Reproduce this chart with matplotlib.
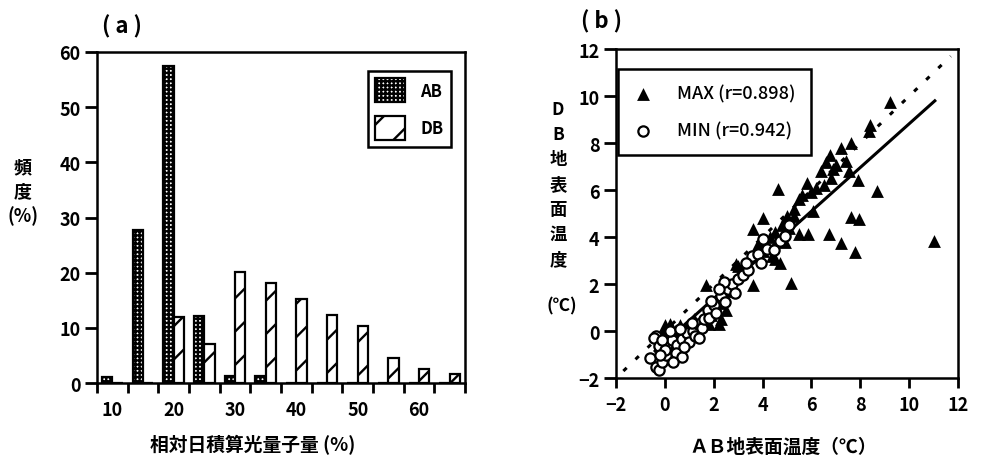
import matplotlib
matplotlib.use('Agg')
import matplotlib.pyplot as plt
from matplotlib.ticker import FixedLocator, FixedFormatter

plt.rcParams['font.family'] = ['Noto Sans CJK JP', 'DejaVu Sans']
plt.rcParams['hatch.linewidth'] = 1.7

# (a) 相対日積算光量子量の頻度分布
bin_centers = [10, 15, 20, 25, 30, 35, 40, 45, 50, 55, 60, 65]
ab_freq = [1.1, 27.8, 57.5, 12.1, 1.2, 1.2, 0, 0, 0, 0, 0, 0]
db_freq = [0, 0, 12.0, 7.1, 20.1, 18.2, 15.2, 12.3, 10.3, 4.6, 2.6, 1.7]
x_labels = ['10', '20', '30', '40', '50', '60']
x_label_pos = [10, 20, 30, 40, 50, 60]
bin_edges = [7.5 + 5 * i for i in range(13)]

# (b) AB と DB の地表面温度
max_ab = [1.7, 3.6, 5.15, 4.65, 8.7, 7.9, 11.0, 7.6, 7.95, 6.7, 7.2, 7.8, 5.5, 5.85,
          9.2, 8.35, 8.4, 7.6, 7.2, 6.75, 6.6, 5.8, 6.4, 6.9, 7.4, 7.55, 7.0, 6.8,
          6.2, 6.0, 6.05, 5.5, 5.3, 5.0, 5.1, 4.8, 4.5, 4.0, 3.6, 4.3, 3.8, 4.0,
          4.5, 4.7, 4.4, 3.9, 3.0, 2.9, 3.1, 2.4, 2.3, 2.5, 2.3, 2.1, 1.9, 1.6,
          1.4, 1.2, 1.0, 0.8, 0.6, 0.4, 0.2, 0.0, -0.1, 0.3, 0.6, 0.9, 1.3, 0.1,
          1.8, 2.2, 2.6, 4.2, 4.9, 5.3, 5.6, 6.5]
max_db = [1.95, 1.95, 2.05, 6.05, 5.95, 6.45, 3.85, 4.85, 4.75, 4.15, 3.75, 3.35, 4.15, 4.15,
          9.75, 8.5, 8.75, 8.0, 7.8, 7.5, 7.2, 6.3, 6.8, 6.9, 7.25, 6.8, 7.05, 6.5,
          6.1, 5.9, 5.1, 5.6, 5.2, 4.9, 4.4, 4.5, 4.2, 4.8, 4.35, 4.0, 3.7, 3.4,
          3.05, 2.9, 3.2, 3.6, 2.75, 2.85, 2.6, 1.55, 1.2, 0.9, 0.5, 1.0, 0.7, 0.6,
          0.4, 0.5, 0.3, 0.1, 0.25, 0.0, 0.3, 0.25, -0.1, -0.3, -0.5, -0.2, 0.1, -0.6,
          0.3, 0.3, 1.7, 3.6, 3.8, 4.9, 5.8, 6.2]
min_ab = [-0.35, -0.45, -0.25, -0.6, -0.35, -0.25, -0.1, 0.05, 0.1, 0.3, 0.5, 0.45, 0.7,
          0.7, 0.9, 1.0, 1.15, 1.25, 1.35, 1.5, 1.6, 1.75, 1.8, 2.0, 2.1, 2.3, 2.45, 2.6,
          2.75, 2.85, 3.0, 3.2, 3.4, 3.55, 3.8, 3.95, 4.2, 4.45, 4.7, 4.9, 5.1, 4.0, 1.1,
          0.2, -0.1, 0.0, 0.6, 1.9, 2.4, 3.3, 1.4, 0.35, -0.2, 0.8, 2.2]
min_db = [-0.2, -0.3, -0.65, -1.15, -1.55, -1.65, -1.3, -1.0, -0.6, -0.4, -0.6, -0.95, -0.35,
          -1.12, -0.1, -0.45, 0.0, -0.2, 0.3, 0.15, 0.5, 0.9, 0.55, 1.1, 0.75, 1.5, 1.25, 1.8,
          2.0, 1.6, 2.2, 2.4, 2.6, 3.2, 3.3, 2.9, 3.5, 3.45, 3.85, 4.05, 4.5, 3.9, 0.35,
          0.0, -0.4, -0.8, 0.1, 1.3, 2.1, 2.9, -0.3, -1.3, -1.0, -0.7, 1.8]
one_to_one = [-1.7, 11.7]
fit_x = [-0.4, 11.05]
fit_y = [-0.85, 9.8]

fig = plt.figure(figsize=(9.83, 4.6), dpi=100)

# ---- (a) ----
ax1 = fig.add_axes([0.0987, 0.1652, 0.3744, 0.7196])
w = 1.7
ax1.bar([c - w / 2 for c in bin_centers], ab_freq, width=w, facecolor='white',
        edgecolor='black', hatch='++++', linewidth=1.6, label='AB')
ax1.bar([c + w / 2 for c in bin_centers], db_freq, width=w, facecolor='white',
        edgecolor='black', hatch='/', linewidth=1.6, label='DB')
ax1.set_xlim(bin_edges[0], bin_edges[-1])
ax1.set_ylim(0, 60)
ax1.set_yticks(range(0, 61, 10))
ax1.xaxis.set_major_locator(FixedLocator(bin_edges))
ax1.xaxis.set_major_formatter(FixedFormatter([''] * len(bin_edges)))
ax1.xaxis.set_minor_locator(FixedLocator(x_label_pos))
ax1.xaxis.set_minor_formatter(FixedFormatter(x_labels))
ax1.tick_params(axis='x', which='major', direction='out', length=7, width=2)
ax1.tick_params(axis='x', which='minor', length=0, pad=12, labelsize=13)
ax1.tick_params(axis='y', direction='out', length=9, width=2, pad=3, labelsize=13)
for lab in ax1.get_xticklabels(minor=True) + ax1.get_yticklabels():
    lab.set_fontweight('bold')
for s in ax1.spines.values():
    s.set_linewidth(1.8)
leg1 = ax1.legend(loc='upper right', bbox_to_anchor=(0.962, 0.943), borderaxespad=0,
                  fontsize=12, handlelength=1.8, handleheight=1.85, labelspacing=0.8,
                  handletextpad=0.9, borderpad=0.45, fancybox=False, framealpha=1,
                  edgecolor='black')
leg1.get_frame().set_linewidth(1.8)
for t in leg1.get_texts():
    t.set_fontweight('bold')

# ---- (b) ----
ax2 = fig.add_axes([0.6267, 0.176, 0.3479, 0.715])
ax2.plot(one_to_one, one_to_one, color='black', linewidth=2.2, linestyle=(0, (1.5, 4)))
ax2.plot(fit_x, fit_y, color='black', linewidth=2.2)
ax2.scatter(max_ab, max_db, marker='^', s=85, color='black', linewidths=0,
            label='MAX (r=0.898)', zorder=3)
ax2.scatter(min_ab, min_db, marker='o', s=55, facecolor='white', edgecolor='black',
            linewidths=1.6, label='MIN (r=0.942)', zorder=4)
ax2.set_xlim(-2, 12)
ax2.set_ylim(-2, 12)
ax2.set_xticks(range(-2, 13, 2))
ax2.set_yticks(range(-2, 13, 2))
ax2.tick_params(axis='x', direction='out', length=7, width=2, pad=5, labelsize=13)
ax2.tick_params(axis='y', direction='out', length=9, width=2, pad=3, labelsize=13)
for lab in ax2.get_xticklabels() + ax2.get_yticklabels():
    lab.set_fontweight('bold')
for s in ax2.spines.values():
    s.set_linewidth(1.8)
leg2 = ax2.legend(loc='upper left', bbox_to_anchor=(0.006, 0.939), borderaxespad=0,
                  fontsize=13, handlelength=1.1, labelspacing=1.05, handletextpad=1.3,
                  borderpad=0.85, fancybox=False, framealpha=1, edgecolor='black',
                  scatterpoints=1, markerscale=1.0)
leg2.get_frame().set_linewidth(1.8)
for t in leg2.get_texts():
    t.set_fontweight('medium')

# ---- texts ----
fig.text(0.124, 0.941, '( a )', fontsize=16, fontweight='bold', ha='center', va='center')
fig.text(0.612, 0.952, '( b )', fontsize=16, fontweight='bold', ha='center', va='center')
fig.text(0.0234, 0.582, '頻\n度\n(%)', fontsize=13, fontweight='bold', ha='center',
         va='center', linespacing=1.3)
fig.text(0.2574, 0.032, '相対日積算光量子量 (%)', fontsize=13.5, fontweight='bold',
         ha='center', va='center')
fig.text(0.5677, 0.598, 'D\nB\n地\n表\n面\n温\n度', fontsize=12.5, fontweight='bold',
         ha='center', va='center', linespacing=1.5)
fig.text(0.572, 0.333, '(℃)', fontsize=12.5, fontweight='bold', ha='center', va='center')
fig.text(0.7965, 0.028, 'ＡＢ地表面温度（℃）', fontsize=13.5, fontweight='bold',
         ha='center', va='center')

fig.savefig('out.png', dpi=100)
